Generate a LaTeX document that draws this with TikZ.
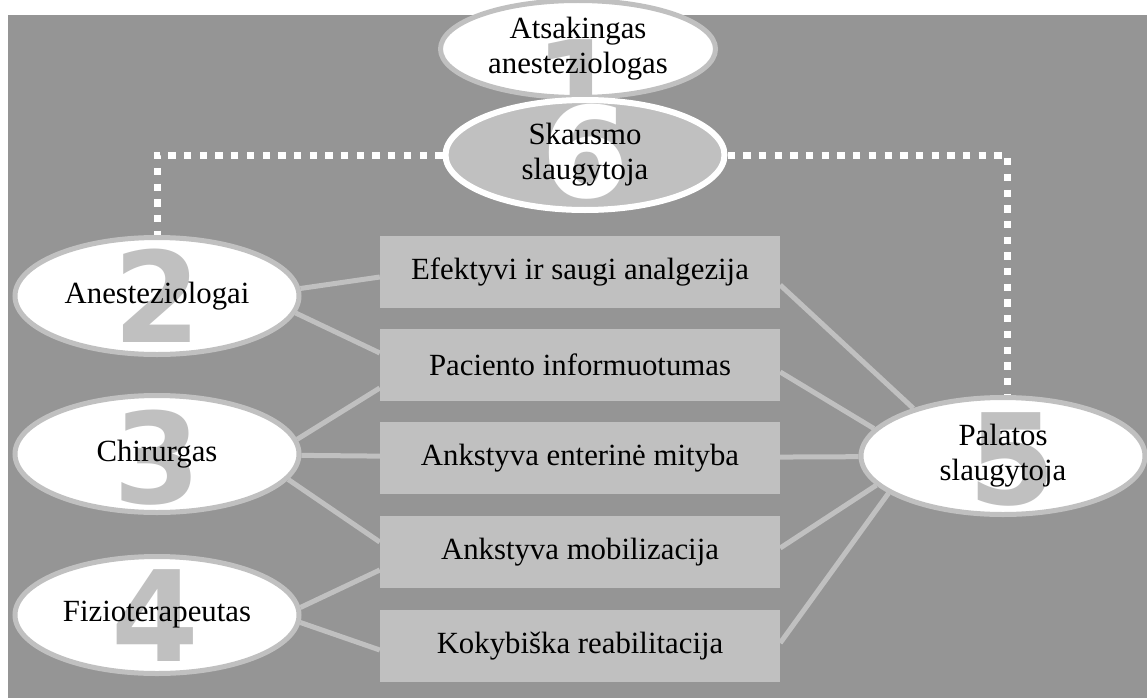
\documentclass[tikz,border=0pt]{standalone}
\usepackage{fontspec}
\setmainfont{Liberation Serif}
\newfontfamily\digitfont{DejaVu Sans}
\usetikzlibrary{shapes.geometric,backgrounds}
\definecolor{bggray}{HTML}{959595}
\definecolor{palegray}{HTML}{C0C0C0}

\begin{document}
\begin{tikzpicture}[x=1pt,y=-1pt]
					\tikzstyle{role}=[ellipse,draw=palegray,line width=5pt,fill=white,minimum width=284pt,minimum height=117pt,inner sep=0pt,align=center,font=\fontsize{30.8}{35}\selectfont]
					\tikzstyle{task}=[rectangle,fill=palegray,minimum width=400pt,minimum height=72pt,inner sep=0pt,font=\fontsize{30.8}{35}\selectfont]
					\tikzstyle{digit}=[rectangle,draw=none,fill=none,minimum size=0pt,inner sep=0pt,text=palegray,font=\digitfont\bfseries\fontsize{126}{126}\selectfont]
					\tikzstyle{link}=[draw=palegray,line width=5pt]
					\tikzstyle{dots}=[draw=white,line width=7pt,dash pattern=on 7.3pt off 8.4pt]
					\useasboundingbox (0,0) rectangle (1147,698);
					\node[role,minimum width=275pt,minimum height=97pt,path picture={\node[digit] at ([yshift=-37pt]path picture bounding box.center) {1};}] (1) at (578,49) {Atsakingas\\anesteziologas};
					\node[role,fill=palegray,draw=white,line width=6pt,minimum width=279pt,minimum height=110pt,path picture={\node[digit,text=white] at ([yshift=3pt]path picture bounding box.center) {6};}] (6) at (585,155) {Skausmo\\slaugytoja};
					\node[role,path picture={\node[digit] at (path picture bounding box.center) {2};}] (2) at (157,296) {Anesteziologai};
					\node[role,path picture={\node[digit] at ([yshift=-4pt]path picture bounding box.center) {3};}] (3) at (157,454) {Chirurgas};
					\node[role,path picture={\node[digit] at ([xshift=-2pt,yshift=-1pt]path picture bounding box.center) {4};}] (4) at (157,615) {Fizioterapeutas};
					\node[role,path picture={\node[digit] at ([xshift=9pt,yshift=-3pt]path picture bounding box.center) {5};}] (5) at (1003,456) {Palatos\\slaugytoja};
					\node[task] (a) at (580,272) {Efektyvi ir saugi analgezija};
					\node[task] (b) at (580,365) {Paciento informuotumas};
					\node[task] (c) at (580,458) {Ankstyva enterinė mityba};
					\node[task] (d) at (580,552) {Ankstyva mobilizacija};
					\node[task] (e) at (580,646) {Kokybiška reabilitacija};
					\begin{pgfonlayer}{background}
					\fill[bggray] (8,15) rectangle (1147,698);
					\draw[dots] (6.west) -| (2.north);
					\draw[dots] (6.east) -| ([xshift=4pt]5.north);
					\draw[link] (2.3) -- ([yshift=-5pt]a.west);
					\draw[link] (2.-7) -- ([yshift=12pt]b.west);
					\draw[link] (3.6) -- ([yshift=-23pt]b.west);
					\draw[link] (3) -- (c);
					\draw[link] (3.-11) -- ([yshift=10pt]d.west);
					\draw[link] (4.3) -- ([yshift=-18pt]d.west);
					\draw[link] (4.-3) -- ([yshift=-4pt]e.west);
					\draw[link] ([yshift=-13pt]a.east) -- (5.152);
					\draw[link] ([yshift=-7pt]b.east) -- (5.168);
					\draw[link] (c) -- (5);
					\draw[link] ([yshift=4pt]d.east) -- (5.193);
					\draw[link] ([yshift=3pt]e.east) -- (5.198);
					\end{pgfonlayer}
\end{tikzpicture}
\end{document}
